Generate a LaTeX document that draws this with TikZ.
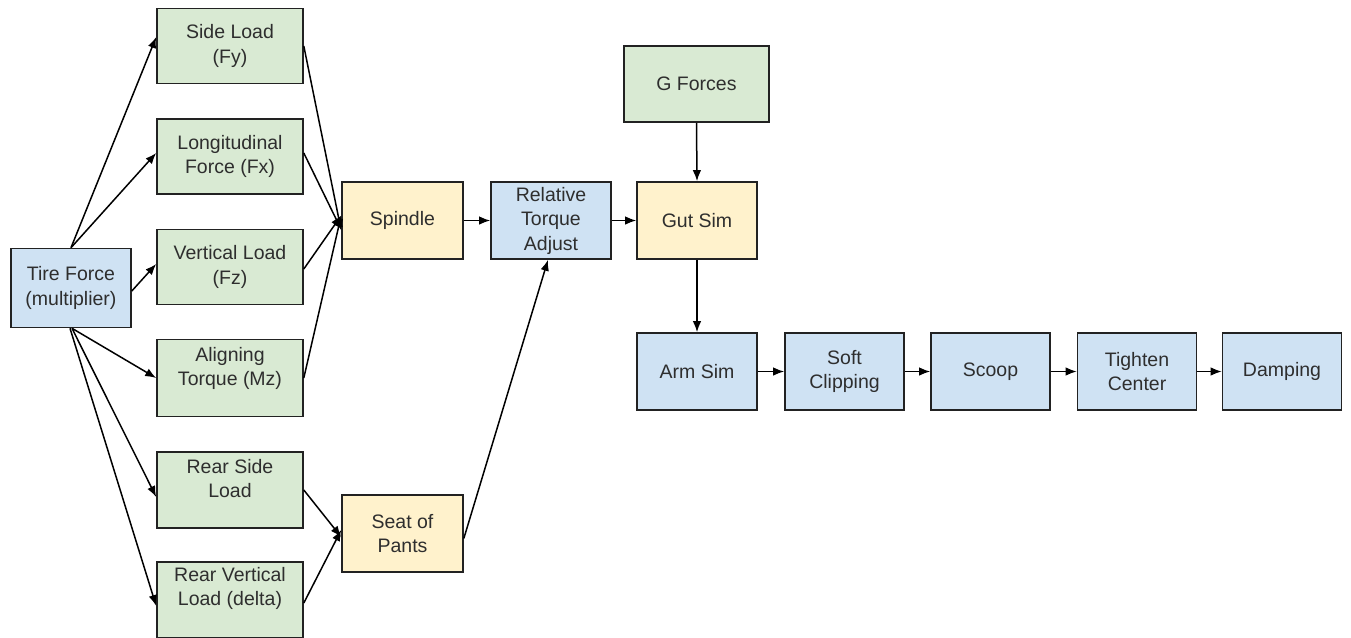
\documentclass[tikz,border=0pt]{standalone}
\usepackage{fontspec}
\setmainfont{Liberation Sans}
\usetikzlibrary{arrows.meta}
\definecolor{gfill}{HTML}{D9EAD3}
\definecolor{bfill}{HTML}{CFE2F3}
\definecolor{yfill}{HTML}{FFF2CC}
\definecolor{txt}{HTML}{2E2E2E}
\definecolor{edge}{HTML}{222222}
\begin{document}
\begin{tikzpicture}[x=1pt,y=-1pt,
  box/.style={draw=edge,line width=1.6pt,minimum width=120pt,minimum height=77pt,
    inner sep=0pt,align=center,text=txt,font=\fontsize{19.5}{24.5}\selectfont},
  wide/.style={minimum width=146pt,minimum height=75pt},
  gbox/.style={box,wide,fill=gfill},
  bbox/.style={box,fill=bfill},
  ybox/.style={box,fill=yfill},
  lab/.style={text=txt,align=center,font=\fontsize{19.5}{24.5}\selectfont},
  arr/.style={draw=black,line width=1.5pt,-{Latex[length=11pt,width=8.5pt]}}]
\useasboundingbox (0,0) rectangle (1351,637);
\fill[white] (0,0) rectangle (1351,637);
% nodes
\node[bbox,minimum height=79pt] (tire) at (71,288) {Tire Force\\(multiplier)};
\node[gbox] (side) at (230,46) {Side Load\\(Fy)};
\node[gbox] (long) at (230,156.5) {Longitudinal\\Force (Fx)};
\node[gbox] (vert) at (230,267) {Vertical Load\\(Fz)};
\node[gbox,minimum height=77pt,label={[lab,name=alignT,yshift=9.5pt]center:Aligning\\Torque (Mz)}] (align) at (230,378) {};
\node[gbox,minimum height=76pt,label={[lab,name=rsideT,yshift=11.5pt]center:Rear Side\\Load}] (rside) at (230,490) {};
\node[gbox,minimum height=76pt,label={[lab,name=rvertT,yshift=11.5pt]center:Rear Vertical\\Load (delta)}] (rvert) at (230,600) {};
\node[ybox,minimum width=121pt] (spindle) at (402.5,220.5) {Spindle};
\node[ybox,minimum width=121pt] (seat) at (402.5,533.5) {Seat of\\Pants};
\node[bbox] (rta) at (551,220.5) {Relative\\Torque\\Adjust};
\node[gbox,minimum width=145pt,minimum height=76pt] (gforces) at (696.5,84) {G Forces};
\node[ybox] (gut) at (697,220.5) {Gut Sim};
\node[bbox] (arm) at (697,371.5) {Arm Sim};
\node[bbox,minimum width=119pt] (soft) at (844.5,371.5) {Soft\\Clipping};
\node[bbox,minimum width=119pt] (scoop) at (990.5,371.5) {Scoop};
\node[bbox,minimum width=119pt] (tighten) at (1137,371.5) {Tighten\\Center};
\node[bbox,minimum width=119pt] (damping) at (1282,371.5) {Damping};
% connectors
\draw[arr] (tire.north) -- ([yshift=9pt]side.west);
\draw[arr] (tire.north) -- ([yshift=3.5pt]long.west);
\draw[arr] ([yshift=-3pt]tire.east) -- ([yshift=3pt]vert.west);
\draw[arr] ([xshift=1pt]tire.south) -- (align.west);
\draw[arr] ([xshift=1pt]tire.south) -- ([yshift=-7pt]rside.west);
\draw[arr] ([xshift=-1pt]tire.south) -- ([yshift=-6pt]rvert.west);
\draw[arr] (side.east) -- ([yshift=-10pt]spindle.west);
\draw[arr] ([yshift=3.5pt]long.east) -- ([yshift=-9pt]spindle.west);
\draw[arr] ([yshift=-2pt]vert.east) -- ([yshift=5pt]spindle.west);
\draw[arr] (align.east) -- ([yshift=5pt]spindle.west);
\draw[arr] (rside.east) -- ([yshift=-3.5pt]seat.west);
\draw[arr] ([yshift=-3pt]rvert.east) -- ([yshift=3.5pt]seat.west);
\draw[arr] ([yshift=-5pt]seat.east) -- ([xshift=-3pt]rta.south);
\draw[arr] (spindle.east) -- (rta.west);
\draw[arr] (rta.east) -- (gut.west);
\draw[arr] (gforces.south) -- (gut.north);
\draw[arr] (gut.south) -- (arm.north);
\draw[arr] (arm.east) -- (soft.west);
\draw[arr] (soft.east) -- (scoop.west);
\draw[arr] (scoop.east) -- (tighten.west);
\draw[arr] (tighten.east) -- (damping.west);
\end{tikzpicture}
\end{document}
